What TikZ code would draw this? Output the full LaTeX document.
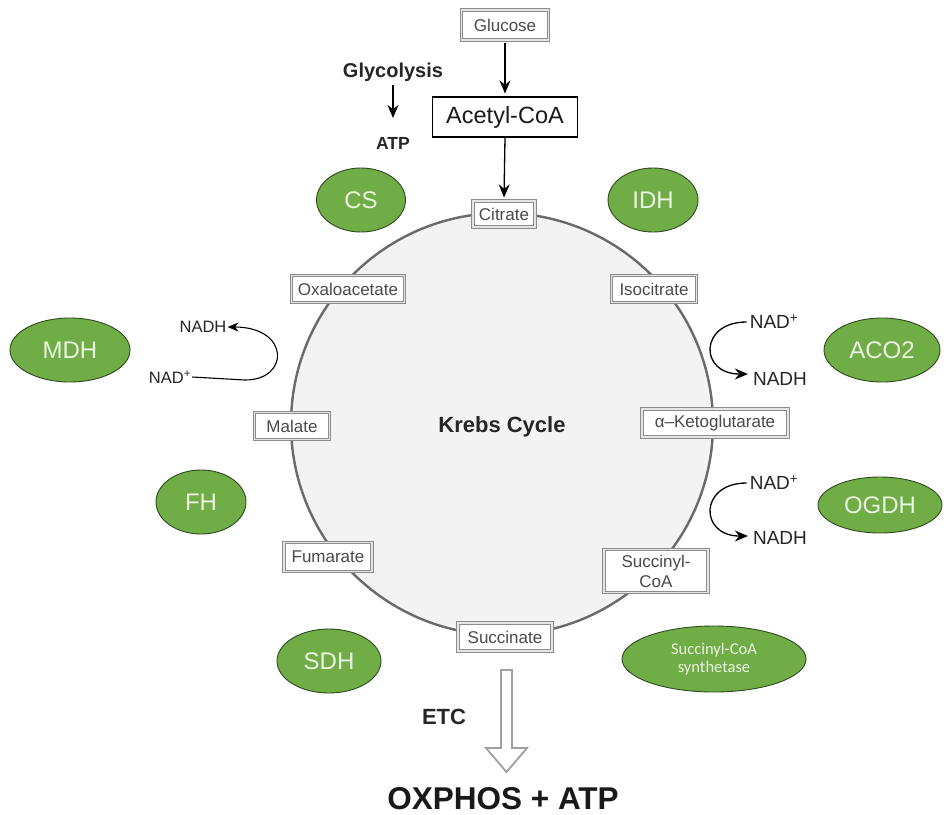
\documentclass[tikz,border=0pt]{standalone}
\usepackage{fontspec}
\setmainfont{Liberation Sans}
\newfontfamily\calfont{Carlito}
\usetikzlibrary{arrows.meta,shapes.geometric}
\definecolor{enz}{HTML}{70AD47}
\definecolor{enzline}{HTML}{2E4A1E}
\definecolor{enztext}{HTML}{EAF5E2}
\definecolor{ring}{HTML}{6A6A6A}
\definecolor{ringfill}{HTML}{F3F3F3}
\definecolor{mettext}{HTML}{4A4A4A}
\definecolor{metline}{HTML}{8C8C8C}
\begin{document}
\begin{tikzpicture}[x=1pt,y=-1pt,
 met/.style={draw=metline, line width=1.1pt, double=gray!20, double distance=1.1pt, fill=white,
   text=mettext, font=\fontsize{17}{19}\selectfont, inner sep=0pt, align=center},
 enzyme/.style={ellipse, fill=enz, draw=enzline, line width=0.9pt, text=enztext,
   font=\fontsize{24}{26}\selectfont, inner sep=0pt, align=center},
 arr/.style={-{Stealth[length=13pt,width=11pt]}, line width=1.3pt},
 lbl/.style={inner sep=1pt, font=\fontsize{19}{21}\selectfont, text=black!85},
 bold/.style={inner sep=1pt, font=\bfseries\fontsize{20}{22}\selectfont, text=black!85}
]
\useasboundingbox (0,0) rectangle (950,814);
\fill[white] (0,0) rectangle (950,814);

% Krebs ring
\draw[draw=ring, fill=ringfill, line width=2.4pt] (502,424) circle[radius=211];
\node[font=\bfseries\fontsize{22}{24}\selectfont, text=black!85] (krebs) at (502,427) {Krebs Cycle};

% top
\node[met, minimum width=87, minimum height=30] (glucose) at (505,25) {Glucose};
\node[draw=black, line width=1.1pt, fill=white, minimum width=145, minimum height=40, inner sep=0pt,
  font=\fontsize{23.5}{25}\selectfont, text=black!90] (acoa) at (505,117) {Acetyl-CoA};
\node[bold] (glyc) at (393,72) {Glycolysis};
\node[bold, font=\bfseries\fontsize{17.5}{19}\selectfont] (atp) at (393,143) {ATP};
\coordinate (g1) at (393,85);
\coordinate (g2) at (393,118);
\draw[arr] (g1) -- (g2);

% metabolites
\node[met, minimum width=62, minimum height=26] (citrate) at (504,214) {Citrate};
\node[met, minimum width=113, minimum height=27] (oxalo) at (348,289) {Oxaloacetate};
\node[met, minimum width=85, minimum height=27] (isocit) at (654,289) {Isocitrate};
\node[met, minimum width=75, minimum height=27] (malate) at (292,426) {Malate};
\node[met, minimum width=146, minimum height=28] (akg) at (715,423) {α–Ketoglutarate};
\node[met, minimum width=88, minimum height=29] (fumarate) at (328,557) {Fumarate};
\node[met, minimum width=104, minimum height=43, font=\fontsize{17}{20}\selectfont] (succoa) at (656,571) {Succinyl-\\CoA};
\node[met, minimum width=94, minimum height=28] (succinate) at (505,637) {Succinate};

\draw[arr] ([yshift=-2pt]glucose.south) -- ([yshift=3pt]acoa.north);
\draw[arr] (acoa.south) -- ([yshift=3pt]citrate.north);

% enzymes
\node[enzyme, minimum width=89, minimum height=64] (cs) at (361,200) {CS};
\node[enzyme, minimum width=90, minimum height=64] (idh) at (653,200) {IDH};
\node[enzyme, minimum width=120, minimum height=64] (mdh) at (70,350) {MDH};
\node[enzyme, minimum width=116, minimum height=64] (aco2) at (882,350) {ACO2};
\node[enzyme, minimum width=90, minimum height=64] (fh) at (201,502) {FH};
\node[enzyme, minimum width=124, minimum height=56] (ogdh) at (880,505) {OGDH};
\node[enzyme, minimum width=104, minimum height=64] (sdh) at (329,661) {SDH};
\node[enzyme, minimum width=184, minimum height=66, font=\calfont\fontsize{16.5}{18}\selectfont] (scs) at (714,659) {Succinyl-CoA\\synthetase};

% left NAD loop
\node[lbl, font=\fontsize{16.5}{18}\selectfont] (nadhL) at (203,327) {NADH};
\node[lbl, font=\fontsize{16.5}{18}\selectfont] (nadpL) at (170,377) {NAD\textsuperscript{+}};
\draw[line width=1.1pt, -{Stealth[length=11pt,width=9pt]}] (nadpL.east) -- (245,380) .. controls (290,380) and (290,327) .. (nadhL.east);

% right NAD loops
\node[lbl] (nadp1) at (774,322) {NAD\textsuperscript{+}};
\node[lbl] (nadh1) at (780,379) {NADH};
\draw[arr] ([xshift=-2pt]nadp1.west) .. controls (699,322) and (699,374) .. ([xshift=-4pt,yshift=5pt]nadh1.west);
\node[lbl] (nadp2) at (774,483) {NAD\textsuperscript{+}};
\node[lbl] (nadh2) at (780,538) {NADH};
\draw[arr] ([xshift=-2pt]nadp2.west) .. controls (699,483) and (699,536) .. ([xshift=-4pt,yshift=2pt]nadh2.west);

% bottom
\node[bold, font=\bfseries\fontsize{22}{24}\selectfont] (etc) at (444,717) {ETC};
\draw[fill=white, draw=gray!75, line width=1.8pt, line join=miter]
  (501,670) -- (512,670) -- (512,748) -- (527,748) -- (506.5,772) -- (486,748) -- (501,748) -- cycle;
\node[font=\bfseries\fontsize{31.5}{33}\selectfont, text=black!90, anchor=base, inner sep=0pt, text depth=0pt] (ox) at (503,809) {OXPHOS + ATP};
\end{tikzpicture}
\end{document}
